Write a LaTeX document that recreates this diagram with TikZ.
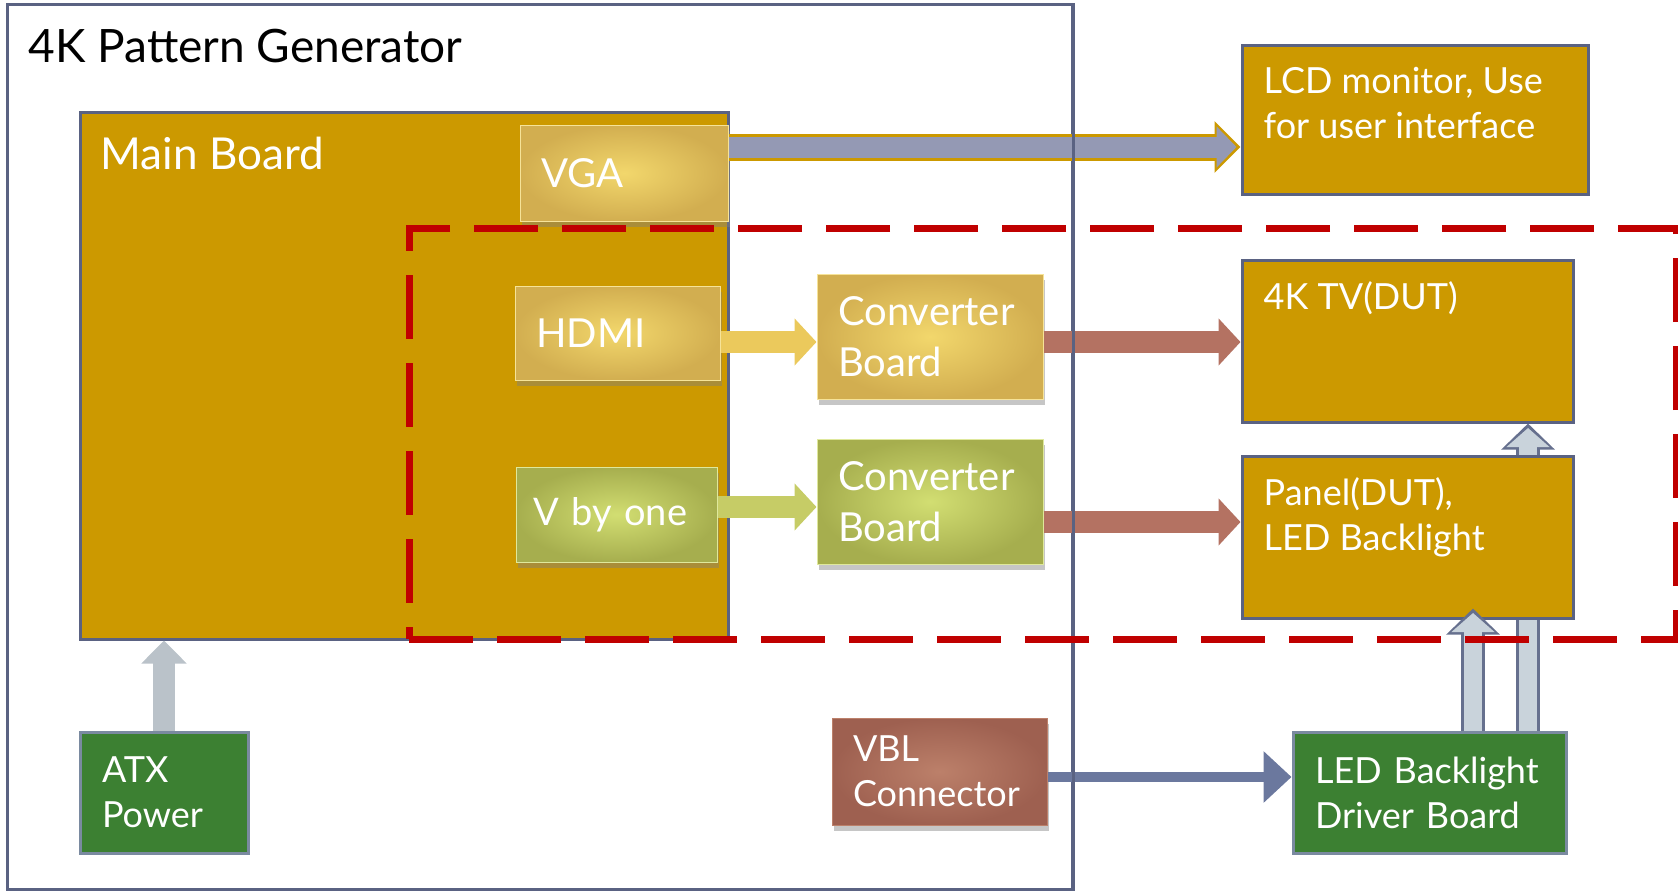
\documentclass[tikz,border=0pt]{standalone}
\usepackage{fontspec}
\setmainfont{Lato}
\usetikzlibrary{arrows.meta,shadows,calc}

\definecolor{boardgold}{HTML}{CC9900}
\definecolor{slateline}{HTML}{5A6282}
\definecolor{pcbgreen}{HTML}{3C8032}
\definecolor{greenline}{HTML}{7A8AA0}
\definecolor{porthi}{HTML}{F2D76C}
\definecolor{portlo}{HTML}{D2AE50}
\definecolor{limehi}{HTML}{D2DE72}
\definecolor{limelo}{HTML}{A6AE4E}
\definecolor{vblhi}{HTML}{BC806A}
\definecolor{vbllo}{HTML}{9E6050}
\definecolor{linkyellow}{HTML}{EBC95C}
\definecolor{linklime}{HTML}{C6CC66}
\definecolor{linkbrown}{HTML}{B47262}
\definecolor{linkslate}{HTML}{6B789E}
\definecolor{linkgrey}{HTML}{9499B4}
\definecolor{powergrey}{HTML}{C9D3DB}
\definecolor{powerline}{HTML}{66708E}
\definecolor{dutred}{HTML}{C00000}

\tikzset{
  board/.style={draw=slateline, line width=3pt, fill=boardgold, inner sep=0pt},
  boardtext/.style={text=white, align=left, inner sep=0pt, font=\fontsize{36}{45}\selectfont},
  supply/.style={draw=greenline, line width=3pt, fill=pcbgreen, text=white, align=left,
    font=\fontsize{36}{45}\selectfont, inner xsep=22pt, inner ysep=0pt},
  port/.style={inner xsep=21pt, inner ysep=0pt, text=white, align=left,
    font=\fontsize{40}{51}\selectfont, shading=radial, inner color=porthi, outer color=portlo,
    draw=porthi!70!white, line width=1pt,
    drop shadow={opacity=0.45, shadow xshift=2pt, shadow yshift=-6pt}},
  limeport/.style={port, inner color=limehi, outer color=limelo, draw=limehi!70!white},
  vblport/.style={port, inner color=vblhi, outer color=vbllo, draw=vblhi,
    font=\fontsize{36}{45}\selectfont},
  link/.style={line width=22pt, -{Triangle[length=22pt, width=46pt]}},
  upedge/.style={draw=powerline, line width=24pt, -{Triangle[length=26pt, width=52pt]}},
  upfill/.style={draw=powergrey, line width=18pt, shorten >=4.5pt,
    -{Triangle[length=19pt, width=42pt]}},
}

\begin{document}
\begin{tikzpicture}[x=1pt,y=-1pt]
  \useasboundingbox (0,0) rectangle (1678,891);

  %% pattern generator frame
  \node[draw=slateline, line width=3pt, inner sep=0pt,
        minimum width=1065, minimum height=884] (gen) at (539.5,447) {};
  \node[anchor=base west, inner sep=0pt, font=\fontsize{46}{52}\selectfont]
        (gentitle) at ([shift={(23,59)}]gen.north west) {4K Pattern Generator};

  %% main board
  \node[board, minimum width=648, minimum height=527] (main) at (404,375.5) {};
  \node[boardtext, anchor=base west, font=\fontsize{44}{52}\selectfont]
        (maintitle) at ([shift={(22,59)}]main.north west) {Main Board};

  %% ports
  \node[port, minimum width=208, minimum height=96, text width=166] (vga) at (624,173) {VGA};
  \node[port, minimum width=205, minimum height=94, text width=163] (hdmi) at (617.5,333) {HDMI};
  \node[limeport, minimum width=201, minimum height=95, inner xsep=17pt, text width=167,
        font=\fontsize{38}{51}\selectfont] (vbyone) at (616.5,514.5) {V by one};

  %% converter boards
  \node[port, minimum width=226, minimum height=125, text width=184] (convA) at (930,336.5) {Converter\\Board};
  \node[limeport, minimum width=226, minimum height=125, text width=184] (convB) at (930,501.5) {Converter\\Board};

  %% displays
  \node[board, minimum width=346, minimum height=148] (lcd) at (1415,120) {};
  \node[boardtext, anchor=north west] (lcdtext) at ([shift={(23,23)}]lcd.north west) {LCD monitor, Use\\for user interface};
  \node[board, minimum width=331, minimum height=162] (tv) at (1407.5,341) {};
  \node[boardtext, anchor=north west] (tvtext) at ([shift={(23,23)}]tv.north west) {4K TV(DUT)};

  %% backlight
  \node[supply, minimum width=273, minimum height=121, text width=229] (driver) at (1429.5,792.5) {LED Backlight\\Driver Board};
  \coordinate (upA) at (1473,0);
  \coordinate (upB) at (1528,0);
  \draw[upedge] (driver.north -| upB) -- (tv.south -| upB);
  \draw[upfill] (driver.north -| upB) -- (tv.south -| upB);
  \node[board, minimum width=331, minimum height=162] (panel) at (1407.5,537) {};
  \node[boardtext, anchor=north west] (paneltext) at ([shift={(23,23)}]panel.north west) {Panel(DUT),\\LED Backlight};
  \draw[upedge] (driver.north -| upA) -- ($(panel.south -| upA)+(0,-11)$);
  \draw[upfill] (driver.north -| upA) -- ($(panel.south -| upA)+(0,-11)$);

  %% power and VBL
  \node[supply, minimum width=168, minimum height=121, text width=124] (atx) at (164,792.5) {ATX\\Power};
  \draw[powergrey!80!gray, line width=22pt, -{Triangle[length=23pt, width=44pt]}] (atx.north) -- (main.south -| atx.north);
  \node[vblport, minimum width=215, minimum height=107, text width=173] (vbl) at (939.5,771.5) {VBL\\Connector};

  %% signal links
  \coordinate (vgarow) at (0,147);
  \coordinate (hdmirow) at (0,342);
  \coordinate (vbyrow) at (0,507);
  \coordinate (panelrow) at (0,522);
  \coordinate (vblrow) at (0,777);
  \draw[boardgold, line width=27pt, -{Triangle[length=26pt, width=50pt]}] (vga.east |- vgarow) -- (lcd.west |- vgarow);
  \draw[linkgrey, line width=21pt, shorten >=4pt, -{Triangle[length=20pt, width=40pt]}] (vga.east |- vgarow) -- (lcd.west |- vgarow);
  \draw[link, linkyellow] (hdmi.east |- hdmirow) -- (convA.west |- hdmirow);
  \draw[link, linklime] (vbyone.east |- vbyrow) -- (convB.west |- vbyrow);
  \draw[link, linkbrown] (convA.east |- hdmirow) -- (tv.west |- hdmirow);
  \draw[link, linkbrown] (convB.east |- panelrow) -- (panel.west |- panelrow);
  \draw[linkslate, line width=10pt, -{Triangle[length=28pt, width=50pt]}] (vbl.east |- vblrow) -- (driver.west |- vblrow);

  %% frame edge and DUT zone
  \draw[slateline, line width=3pt] (gen.north east) -- (gen.south east);
  \node[draw=dutred, line width=7pt, dash pattern=on 64pt off 24pt, inner sep=0pt,
        minimum width=1267, minimum height=411] (dut) at (1042.5,433.5) {};
\end{tikzpicture}
\end{document}
